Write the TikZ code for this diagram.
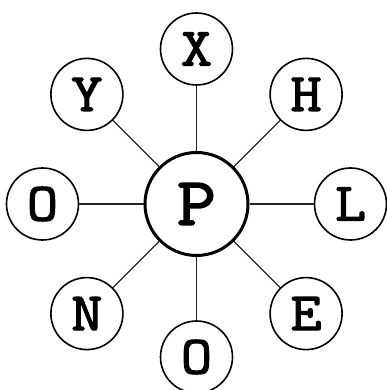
\documentclass[tikz,border=0pt]{standalone}
\usepackage{fontspec}
\newfontfamily\letterfont{Latin Modern Mono}[FakeBold=2.3, FakeStretch=1.12]
\usetikzlibrary{positioning}

\begin{document}
\begin{tikzpicture}[
    x=1pt, y=1pt,
    leaf/.style={draw, circle, line width=1.6pt, minimum size=72pt, inner sep=0pt, font=\letterfont\fontsize{54}{54}\selectfont},
    hub/.style={draw, circle, line width=3pt, minimum size=103pt, inner sep=0pt, font=\letterfont\fontsize{68}{68}\selectfont},
    spoke/.style={line width=1.2pt, draw=black!85}
]
\useasboundingbox (-196.5,-186) rectangle (189.5,204);

% --- Centre ---
\node[hub] (p) at (0,0) {P};

% --- Ring of letters ---
\node[leaf] (x)  at (90:155)  {X};
\node[leaf] (h)  at (45:155)  {H};
\node[leaf] (l)  at (0:154)   {L};
\node[leaf] (e)  at (-45:155) {E};
\node[leaf] (ob) at (-90:153) {O};
\node[leaf] (n)  at (-135:155) {N};
\node[leaf] (ol) at (180:154) {O};
\node[leaf] (y)  at (135:155) {Y};

% --- Spokes ---
\draw[spoke] (p) -- (x);
\draw[spoke] (p) -- (h);
\draw[spoke] (p) -- (l);
\draw[spoke] (p) -- (e);
\draw[spoke] (p) -- (ob);
\draw[spoke] (p) -- (n);
\draw[spoke] (p) -- (ol);
\draw[spoke] (p) -- (y);
\end{tikzpicture}
\end{document}
